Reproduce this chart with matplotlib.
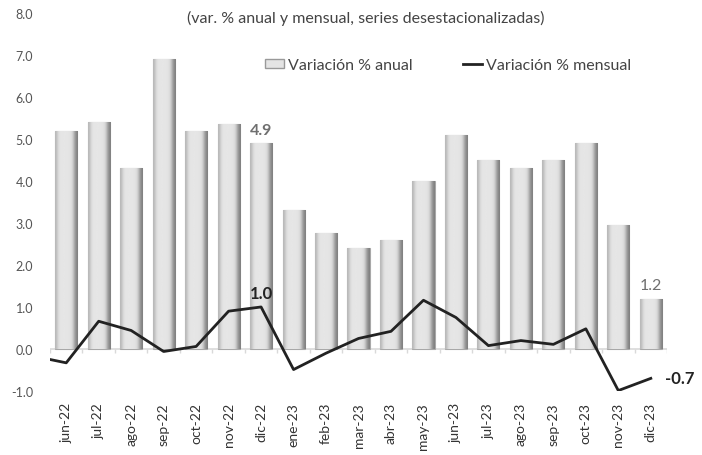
import numpy as np
import matplotlib
matplotlib.use("Agg")
import matplotlib.pyplot as plt
from matplotlib.patches import Patch
from matplotlib.lines import Line2D

# data
meses = ["jun-22", "jul-22", "ago-22", "sep-22", "oct-22", "nov-22", "dic-22",
         "ene-23", "feb-23", "mar-23", "abr-23", "may-23", "jun-23", "jul-23",
         "ago-23", "sep-23", "oct-23", "nov-23", "dic-23"]
anual = [5.2, 5.4, 4.3, 6.9, 5.2, 5.35, 4.9, 3.3, 2.75, 2.4, 2.6, 4.0,
         5.1, 4.5, 4.3, 4.5, 4.9, 2.95, 1.2]
# first value is may-22 (outside the visible range, line is clipped)
mensual = [-0.17, -0.33, 0.66, 0.44, -0.06, 0.06, 0.9, 1.0, -0.49, -0.1,
           0.25, 0.42, 1.16, 0.75, 0.08, 0.2, 0.11, 0.48, -0.99, -0.7]

plt.rcParams['font.family'] = ['Lato', 'DejaVu Sans']

fig = plt.figure(figsize=(7.02, 4.56), dpi=100)
ax = fig.add_axes([0.0712, 0.1404, 0.879, 0.829])

x = np.arange(len(meses))
bars = ax.bar(x, anual, width=0.68, color="#e4e4e4", edgecolor="#a8a8a8",
              linewidth=0.8, zorder=2)

# cylinder-ish shading on every bar
grad = np.array([[0.72, 0.87, 0.9, 0.9, 0.9, 0.9, 0.89, 0.86, 0.66, 0.5]])
for b in bars:
    x0, w, h = b.get_x(), b.get_width(), b.get_height()
    im = ax.imshow(grad, cmap="gray", vmin=0, vmax=1, aspect="auto",
                   extent=[x0, x0 + w, 0, h], interpolation="bicubic", zorder=2.5)
    im.set_clip_path(b)

ax.plot(np.arange(-1, len(meses)), mensual, color="#222222", lw=2.0, zorder=4)

ax.set_xlim(-0.5, len(meses) - 0.5)
ax.set_ylim(-1, 8)
ax.set_yticks(np.arange(-1, 9, 1))
ax.set_yticklabels([f"{v:.1f}" for v in np.arange(-1, 9, 1)])
ax.set_xticks(x)
ax.set_xticklabels(meses, rotation=90)
ax.tick_params(axis="y", length=0, pad=12, labelsize=9, labelcolor="#555555")
ax.tick_params(axis="x", length=0, pad=8, labelsize=10, labelcolor="#333333")
for s in ax.spines.values():
    s.set_visible(False)

# zero axis with small ticks between categories
ax.axhline(0, color="#d9d9d9", lw=1.2, zorder=1)
ax.vlines(np.arange(-0.5, len(meses)), -0.1, 0, color="#d9d9d9", lw=1.0, zorder=1)

# labels
ax.text(6, 4.9 + 0.15, "4.9", ha="center", va="bottom", fontsize=11.5,
        color="#6f6f6f", fontweight="bold")
ax.text(18, 1.2 + 0.15, "1.2", ha="center", va="bottom", fontsize=11.5,
        color="#6f6f6f")
ax.text(6, 1.0 + 0.15, "1.0", ha="center", va="bottom", fontsize=12,
        color="#222222", fontweight="bold")
ax.text(18.45, -0.7, "-0.7", ha="left", va="center", fontsize=12,
        color="#222222", fontweight="bold", clip_on=False)

fig.text(0.521, 0.96, "(var. % anual y mensual, series desestacionalizadas)",
         ha="center", va="center", fontsize=11.5, color="#444444")

handles = [Patch(facecolor="#e4e4e4", edgecolor="#999999"),
           Line2D([0], [0], color="#222222", lw=2)]
ax.legend(handles, ["Variación % anual", "Variación % mensual"], ncol=2,
          frameon=False, fontsize=11.5, labelcolor="#444444",
          loc="center", bbox_to_anchor=(0.645, 0.862), handlelength=1.2,
          handleheight=0.5, handletextpad=0.2, columnspacing=3.2)

fig.savefig("out.png", dpi=100)
